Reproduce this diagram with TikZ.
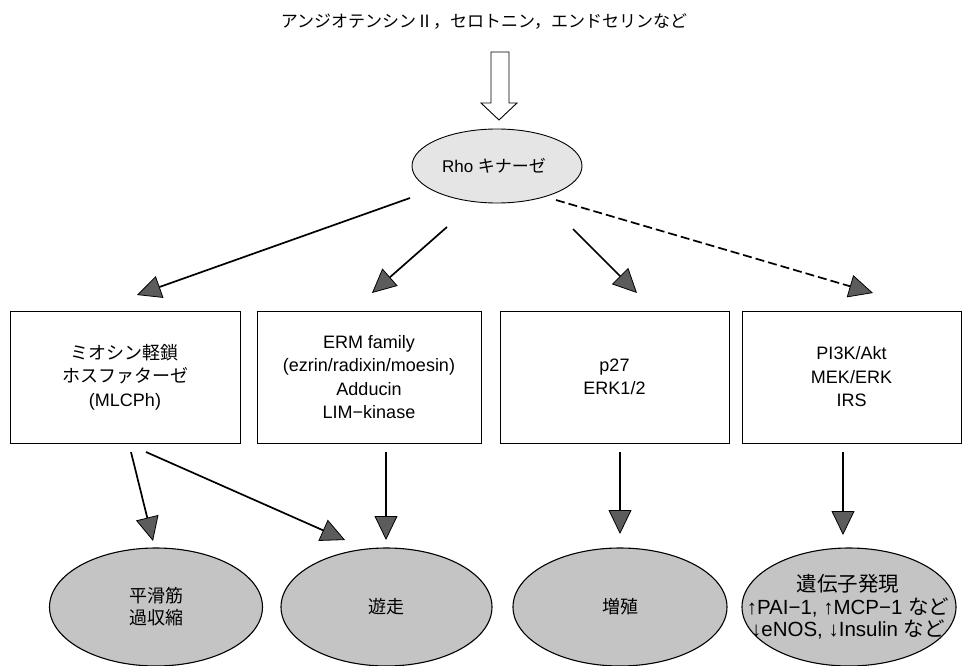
\documentclass[tikz,border=0pt]{standalone}
\usepackage{fontspec}
\setmainfont{Liberation Sans}
\newfontfamily\cjk{Noto Sans CJK JP}
\usetikzlibrary{arrows.meta,shapes.geometric}
\definecolor{headgray}{gray}{0.36}
\definecolor{ovalgray}{gray}{0.77}
\definecolor{rhogray}{gray}{0.90}
\tikzset{
  boxnode/.style={draw, line width=0.9pt, inner sep=0pt, outer sep=0pt, align=center,
    font=\fontsize{18}{23.5}\selectfont},
  ovalnode/.style={draw, ellipse, line width=1.1pt, fill=ovalgray, inner sep=0pt,
    minimum height=118pt},
  ovaltext/.style={align=center, font=\fontsize{18}{22}\selectfont},
  arr/.style={line width=1.7pt, -{Triangle[length=24pt,width=23pt,fill=headgray,line width=0.8pt]}},
  dasharr/.style={arr, dash pattern=on 9pt off 4pt},
}
\begin{document}
\begin{tikzpicture}[x=1pt,y=-1pt]
\useasboundingbox (0,0) rectangle (962,666);

% top text
\node[inner sep=0pt, font=\fontsize{17}{20}\selectfont\cjk] (src) at (484,21)
  {アンジオテンシンⅡ，セロトニン，エンドセリンなど};

% hollow arrow
\draw[line width=0.9pt, fill=white] (491,52) -- (509,52) -- (509,103) -- (517,103) -- (499,120)
  -- (481,103) -- (491,103) -- cycle;

% Rho kinase
\node[draw, ellipse, line width=0.9pt, fill=rhogray, inner sep=0pt, minimum width=170pt,
  minimum height=74pt] (rho) at (497,166) {};
\node[font=\fontsize{17}{20}\selectfont] (rhot) at (494,166) {Rho {\cjk キナーゼ}};

% boxes
\node[boxnode, minimum width=230pt, minimum height=132pt] (b1) at (125,377)
  {{\cjk ミオシン軽鎖}\\{\cjk ホスファターゼ}\\(MLCPh)};
\node[boxnode, minimum width=224pt, minimum height=132pt] (b2) at (369,377)
  {ERM family\\(ezrin/radixin/moesin)\\Adducin\\LIM−kinase};
\node[boxnode, minimum width=229pt, minimum height=132pt] (b3) at (614.5,377)
  {p27\\ERK1/2};
\node[boxnode, minimum width=219pt, minimum height=132pt] (b4) at (851.5,377)
  {PI3K/Akt\\MEK/ERK\\IRS};

% bottom ovals
\node[ovalnode, minimum width=213pt] (e1) at (156,607) {};
\node[ovalnode, minimum width=211pt] (e2) at (386.5,607) {};
\node[ovalnode, minimum width=214pt] (e3) at (620,607) {};
\node[ovalnode, minimum width=214pt] (e4) at (849,607) {};
\node[ovaltext, font=\fontsize{18}{22}\selectfont\cjk] (e1t) at (e1) {平滑筋\\過収縮};
\node[ovaltext, font=\fontsize{18}{22}\selectfont\cjk] (e2t) at (e2) {遊走};
\node[ovaltext, font=\fontsize{18}{22}\selectfont\cjk] (e3t) at (e3) {増殖};
\node[align=center, font=\fontsize{20.5}{22.5}\selectfont] (e4t) at (848,607)
  {{\cjk 遺伝子発現}\\↑PAI−1, ↑MCP−1 {\cjk など}\\↓eNOS, ↓Insulin {\cjk など}};

% arrow end points
\coordinate (r1) at (410,198); \coordinate (h1) at (137,295);
\coordinate (r2) at (447,227); \coordinate (h2) at (372,293);
\coordinate (r3) at (573,229); \coordinate (h3) at (637,293);
\coordinate (r4) at (556,200); \coordinate (h4) at (873,293);
\coordinate (s1a) at (131,452); \coordinate (t1a) at (153,541);
\coordinate (s1b) at (146,452); \coordinate (t1b) at (345,540);
\coordinate (s2) at (386,452); \coordinate (t2) at (386,540);
\coordinate (s3) at (620,452); \coordinate (t3) at (620,534);
\coordinate (s4) at (843,452); \coordinate (t4) at (843,535);

\draw[arr] (r1) -- (h1);
\draw[arr] (r2) -- (h2);
\draw[arr] (r3) -- (h3);
\draw[dasharr] (r4) -- (h4);
\draw[arr] (s1a) -- (t1a);
\draw[arr] (s1b) -- (t1b);
\draw[arr] (s2) -- (t2);
\draw[arr] (s3) -- (t3);
\draw[arr] (s4) -- (t4);
\end{tikzpicture}
\end{document}
